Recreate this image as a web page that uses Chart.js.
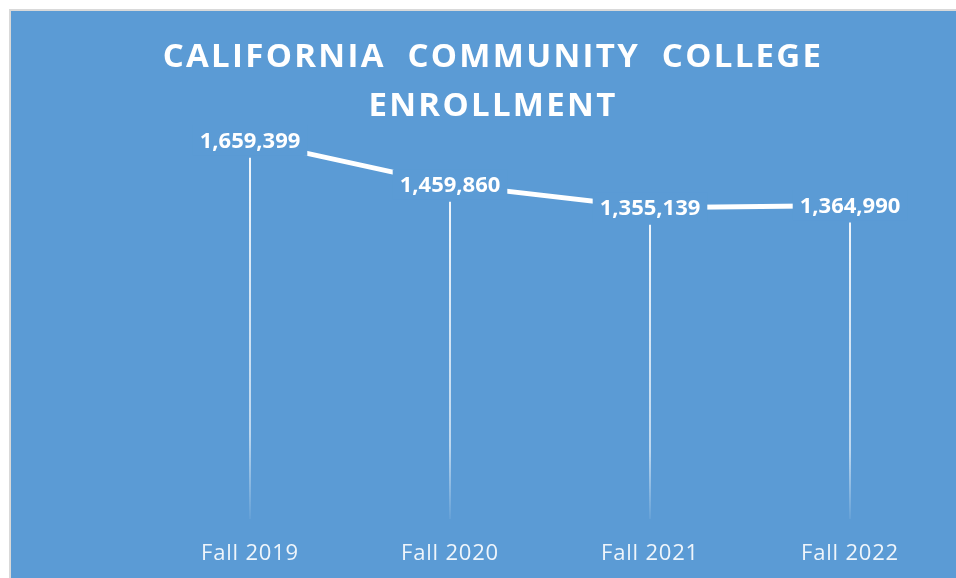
<!DOCTYPE html>
<html>
<head>
<meta charset="utf-8">
<script src="https://cdn.jsdelivr.net/npm/chart.js@4"></script>
<style>
  html, body { margin: 0; padding: 0; background: #ffffff; }
  body { width: 956px; height: 578px; overflow: hidden; position: relative; }
  .frame {
    position: absolute; left: 9px; top: 9px;
    width: 945px; height: 567px;
    border: 2px solid #d9d9d9;
    background: #5b9bd5;
  }
  #enrollment { display: block; }
</style>
</head>
<body>
<div class="frame">
  <canvas id="enrollment" width="945" height="567"></canvas>
</div>
<script>
  // Data
  var terms = ["Fall 2019", "Fall 2020", "Fall 2021", "Fall 2022"];
  var enrollment = [1659399, 1459860, 1355139, 1364990];
  var titleLines = ["CALIFORNIA  COMMUNITY  COLLEGE", "ENROLLMENT"];

  var BLUE = "#5b9bd5";

  // Slight letter spacing on the axis labels, like the original
  var tickSpacing = {
    id: "tickSpacing",
    beforeDraw: function (chart) { chart.ctx.letterSpacing = "0.8px"; },
    beforeDatasetsDraw: function (chart) { chart.ctx.letterSpacing = "0px"; }
  };

  // Title drawn with letter spacing (Excel style)
  var spacedTitle = {
    id: "spacedTitle",
    afterDraw: function (chart) {
      var ctx = chart.ctx;
      ctx.save();
      ctx.fillStyle = "#ffffff";
      ctx.font = "bold 33px 'Open Sans'";
      ctx.textAlign = "center";
      ctx.textBaseline = "middle";
      ctx.letterSpacing = "2.3px";
      titleLines.forEach(function (line, i) {
        ctx.fillText(line, 482, 47 + i * 49);
      });
      ctx.restore();
    }
  };

  // Drop lines from each point down to the axis, fading out
  var dropLines = {
    id: "dropLines",
    beforeDatasetsDraw: function (chart) {
      var ctx = chart.ctx;
      var area = chart.chartArea;
      var meta = chart.getDatasetMeta(0);
      ctx.save();
      meta.data.forEach(function (pt) {
        var top = pt.y + 17;
        var grad = ctx.createLinearGradient(0, top, 0, area.bottom);
        grad.addColorStop(0, "rgba(255,255,255,0.9)");
        grad.addColorStop(0.75, "rgba(255,255,255,0.6)");
        grad.addColorStop(1, "rgba(255,255,255,0)");
        ctx.strokeStyle = grad;
        ctx.lineWidth = 2;
        ctx.beginPath();
        ctx.moveTo(pt.x, top);
        ctx.lineTo(pt.x, area.bottom - 8);
        ctx.stroke();
      });
      ctx.restore();
    }
  };

  // Value labels sitting on the line (blue box hides the line under the text)
  var valueLabels = {
    id: "valueLabels",
    afterDatasetsDraw: function (chart) {
      var ctx = chart.ctx;
      var meta = chart.getDatasetMeta(0);
      ctx.save();
      ctx.font = "bold 22px 'Open Sans'";
      ctx.textAlign = "center";
      ctx.textBaseline = "middle";
      meta.data.forEach(function (pt, i) {
        var txt = enrollment[i].toLocaleString("en-US");
        var w = ctx.measureText(txt).width;
        ctx.fillStyle = BLUE;
        ctx.fillRect(pt.x - w / 2 - 7, pt.y - 15, w + 14, 30);
        ctx.fillStyle = "#ffffff";
        ctx.fillText(txt, pt.x, pt.y + 1);
      });
      ctx.restore();
    }
  };

  var ctx = document.getElementById("enrollment").getContext("2d");
  var chart = new Chart(ctx, {
    type: "line",
    data: {
      labels: terms,
      datasets: [{
        data: enrollment,
        borderColor: "#ffffff",
        borderWidth: 5,
        pointRadius: 0,
        pointHoverRadius: 0,
        tension: 0,
        fill: false
      }]
    },
    options: {
      responsive: false,
      animation: false,
      events: [],
      layout: {
        padding: { left: 139, right: 6, top: 99, bottom: 12 }
      },
      plugins: {
        legend: { display: false },
        title: { display: false },
        tooltip: { enabled: false }
      },
      scales: {
        x: {
          offset: true,
          grid: { display: false, drawTicks: false },
          border: { display: false },
          ticks: {
            color: "rgba(255,255,255,0.9)",
            padding: 14,
            font: { family: "'Open Sans'", size: 22 }
          },
          afterFit: function (scale) { scale.height = 39; }
        },
        y: {
          display: false,
          min: -100000,
          max: 1800000
        }
      }
    },
    plugins: [tickSpacing, dropLines, valueLabels, spacedTitle]
  });
</script>
</body>
</html>
